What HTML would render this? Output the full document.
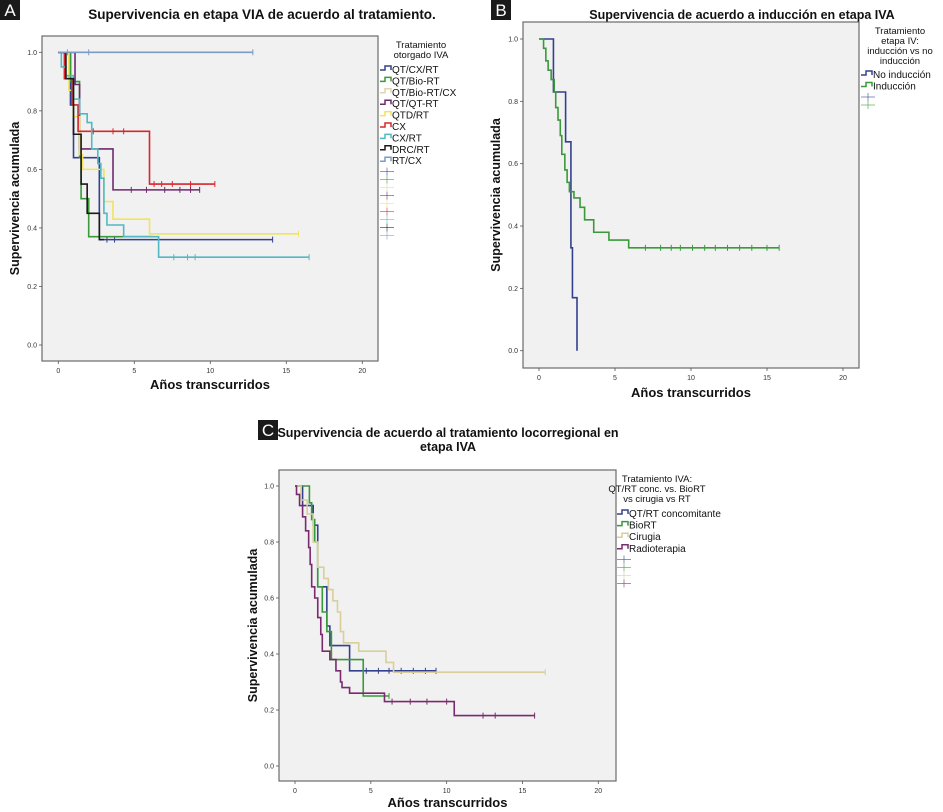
<!DOCTYPE html>
<html><head><meta charset="utf-8">
<style>
html,body{margin:0;padding:0;background:#fff;}
svg{display:block;font-family:"Liberation Sans","DejaVu Sans",sans-serif;}
</style></head>
<body>
<svg id="fig" width="943" height="812" viewBox="0 0 943 812" xmlns="http://www.w3.org/2000/svg"></svg>
<script>
// ---------- Panel A data ----------
const aNames = ["QT/CX/RT","QT/Bio-RT","QT/Bio-RT/CX","QT/QT-RT","QTD/RT","CX","CX/RT","DRC/RT","RT/CX"];
const aColors = ["#33408f","#3a9a3a","#e0d6b0","#6e2a6e","#f2e35a","#d8262e","#52b8c4","#1a1a1a","#7c9cc8"];
const aT1 = [0,0.8,1.0,2.7];            const aS1 = [1,0.82,0.64,0.36];  const aE1 = 14.1;
const aT2 = [0,0.8,1.4,1.5,2.0];        const aS2 = [1,0.9,0.64,0.5,0.37]; const aE2 = 6.2;
const aT3 = [0];                        const aS3 = [1];                   const aE3 = 2.0;
const aT4 = [0,1.1,1.4,3.6];            const aS4 = [1,0.89,0.67,0.53];    const aE4 = 9.3;
const aT5 = [0,0.7,1.0,1.4,1.6,3.0,3.6,6.0]; const aS5 = [1,0.87,0.78,0.65,0.6,0.49,0.43,0.38]; const aE5 = 15.8;
const aT6 = [0,0.4,0.9,1.3,6.0];        const aS6 = [1,0.91,0.82,0.73,0.55]; const aE6 = 10.3;
const aT7 = [0,0.2,0.5,1.0,1.4,1.9,2.2,2.6,2.8,3.0,3.2,4.3,6.6]; const aS7 = [1,0.95,0.92,0.84,0.79,0.76,0.67,0.62,0.57,0.45,0.41,0.37,0.30]; const aE7 = 16.5;
const aT8 = [0,0.5,1.0,1.5,1.9,2.7];    const aS8 = [1,0.91,0.72,0.55,0.45,0.36]; const aE8 = 3.0;
const aT9 = [0];                        const aS9 = [1];                   const aE9 = 12.8;
const aC1 = [3.2,3.7,14.1]; const aC4 = [4.8,5.8,7,8,8.7,9.3]; const aC6 = [2.3,3.6,4.3,6.3,6.8,7.5,8.7,10.3];
const aC7 = [7.6,8.5,9.0,16.5]; const aC5 = [15.8]; const aC9 = [0.6,2.0,12.8];
// ---------- Panel B data ----------
const bNames = ["No inducción","Inducción"];
const bColors = ["#33408f","#3a9a3a"];
const bT1 = [0,0.95,1.75,2.1,2.2,2.5]; const bS1 = [1,0.83,0.67,0.33,0.17,0]; const bE1 = 2.5;
const bT2 = [0,0.3,0.45,0.6,0.8,1.0,1.1,1.25,1.4,1.5,1.7,1.85,2.0,2.3,2.7,3.0,3.6,4.6,5.9];
const bS2 = [1,0.97,0.93,0.9,0.87,0.83,0.78,0.74,0.69,0.63,0.58,0.54,0.51,0.49,0.46,0.42,0.38,0.355,0.33];
const bE2 = 15.8;
const bC2 = [7,8,8.7,9.3,10.1,10.9,11.6,12.4,13.2,14,15,15.8];
// ---------- Panel C data ----------
const cNames = ["QT/RT concomitante","BioRT","Cirugia","Radioterapia"];
const cColors = ["#33408f","#3a9a3a","#d8cf9a","#7a2a6e"];
const cT1 = [0,0.5,1.2,1.5,2.1,2.3,3.6]; const cS1 = [1,0.93,0.86,0.64,0.5,0.43,0.34]; const cE1 = 9.3;
const cT2 = [0,0.95,1.1,1.3,1.5,1.8,2.1,2.4,4.5]; const cS2 = [1,0.94,0.88,0.8,0.64,0.55,0.48,0.38,0.25]; const cE2 = 6.2;
const cT3 = [0,0.4,0.8,1.2,1.5,1.9,2.2,2.5,2.8,3.0,3.2,4.2,6.0,6.5]; const cS3 = [1,0.95,0.9,0.8,0.71,0.67,0.63,0.59,0.55,0.48,0.44,0.41,0.37,0.335]; const cE3 = 16.5;
const cT4 = [0,0.1,0.3,0.5,0.7,0.9,1.0,1.1,1.3,1.5,1.7,1.8,2.3,2.7,3.0,3.1,3.6,5.9,10.5];
const cS4 = [1,0.97,0.93,0.89,0.84,0.78,0.72,0.64,0.6,0.53,0.47,0.41,0.38,0.34,0.3,0.28,0.26,0.23,0.18];
const cE4 = 15.8;
const cC1 = [4.7,5.5,6.2,7,7.8,8.6,9.3]; const cC3 = [16.5]; const cC4 = [6.4,7.6,8.7,10,12.4,13.2,15.8]; const cC2 = [6.2];

const xTicks = [0,5,10,15,20];
const yTicks = [0,0.2,0.4,0.6,0.8,1.0];

const NS = "http://www.w3.org/2000/svg";
const svg = document.getElementById("fig");
function mk(tag, attrs, parent){
  const e = document.createElementNS(NS, tag);
  for (const k in attrs) e.setAttribute(k, attrs[k]);
  (parent||svg).appendChild(e);
  return e;
}
function txt(x,y,s,size,weight,anchor,parent,fill){
  const t = mk("text",{x:x,y:y,"font-size":size,"font-weight":weight||"normal","text-anchor":anchor||"middle",fill:fill||"#111"},parent);
  t.textContent = s;
  return t;
}

function panel(p){
  const g = mk("g",{});
  
  
  const X = v => p.x0 + (v/20)*(p.x20-p.x0);
  const Y = v => p.y0 + v*(p.y1-p.y0);
  const box = mk("rect",{x:p.bx,y:p.by,width:p.bw,height:p.bh,fill:"#f1f1f1",stroke:"#6a6a6a","stroke-width":1.2},g);
  
  
  xTicks.forEach(v=>{
    mk("line",{x1:X(v),x2:X(v),y1:p.by+p.bh,y2:p.by+p.bh+3,stroke:"#555","stroke-width":0.8},g);
    const t = txt(X(v),p.by+p.bh+12,String(v),7,"normal","middle",g,"#333");
    
    
  });
  yTicks.forEach(v=>{
    mk("line",{x1:p.bx-3,x2:p.bx,y1:Y(v),y2:Y(v),stroke:"#555","stroke-width":0.8},g);
    const t = txt(p.bx-5,Y(v)+2.5,v.toFixed(1),7,"normal","end",g,"#333");
    
    
  });
  p.series.forEach((s,i)=>{
    let d = "M"+X(s.t[0])+","+Y(s.s[0]);
    for (let k=1;k<s.t.length;k++){
      d += " H"+X(s.t[k])+" V"+Y(s.s[k]);
    }
    d += " H"+X(s.e);
    const path = mk("path",{d:d,fill:"none",stroke:p.colors[i],"stroke-width":1.6},g);
    
    
    (s.c||[]).forEach(ct=>{
      let sv = s.s[0];
      for (let k=0;k<s.t.length;k++) if (s.t[k]<=ct) sv = s.s[k];
      const cm = mk("line",{x1:X(ct),x2:X(ct),y1:Y(sv)-3,y2:Y(sv)+3,stroke:p.colors[i],"stroke-width":1},g);
      
      
    });
  });
  p.title.forEach((line,k)=>{
    const t = txt(p.tx,p.ty+k*14,line,p.tsize||12.5,"bold","middle",g);
    
    
  });
  const xt = txt((p.bx+p.bw/2),p.xty,"Años transcurridos",13,"bold","middle",g);
  
  
  const yt = txt(0,0,"Supervivencia acumulada",12.5,"bold","middle",g);
  yt.setAttribute("transform","translate("+p.ytx+","+(p.by+p.bh/2)+") rotate(-90)");
  
  
  const lb = mk("rect",{x:p.lx,y:p.ly,width:20,height:20,fill:"#1a1a1a"},g);
  
  
  txt(p.lx+10,p.ly+16,p.letter,17,"normal","middle",g,"#fff");
  p.legTitle.forEach((line,k)=>{
    const t = txt(p.lgx,p.lgy+k*10,line,9.5,"normal","middle",g);
    
    
  });
  p.names.forEach((n,i)=>{
    const yy = p.ley + i*p.lstep;
    const lg = mk("g",{},g);
    
    
    mk("path",{d:"M"+p.lex+","+(yy+1)+" H"+(p.lex+5)+" V"+(yy-3)+" H"+(p.lex+11)+" V"+(yy+1),fill:"none",stroke:p.colors[i],"stroke-width":1.5},lg);
    txt(p.lex+12,yy+4,n,10,"normal","start",lg);
  });
  p.names.forEach((n,i)=>{
    const yy = p.ley + p.names.length*p.lstep + i*p.cstep;
    const cm = mk("g",{},g);
    
    
    mk("line",{x1:p.lex,x2:p.lex+14,y1:yy,y2:yy,stroke:p.colors[i],"stroke-width":0.8,opacity:0.7},cm);
    mk("line",{x1:p.lex+7,x2:p.lex+7,y1:yy-4,y2:yy+4,stroke:p.colors[i],"stroke-width":0.8,opacity:0.7},cm);
  });
}

panel({id:"panel-a",letter:"A",lx:0,ly:0,
  bx:42,by:36,bw:336,bh:325,x0:58.3,x20:362.3,y0:345,y1:52.3,
  tx:262,ty:19,tsize:13.5,title:["Supervivencia en etapa VIA de acuerdo al tratamiento."],xty:389,ytx:19,
  lgx:421,lgy:48,legTitle:["Tratamiento","otorgado IVA"],lex:380,ley:69,lstep:11.4,cstep:8,
  names:aNames,colors:aColors,
  series:[{t:aT1,s:aS1,e:aE1,c:aC1},{t:aT2,s:aS2,e:aE2},{t:aT3,s:aS3,e:aE3},{t:aT4,s:aS4,e:aE4,c:aC4},
          {t:aT5,s:aS5,e:aE5,c:aC5},{t:aT6,s:aS6,e:aE6,c:aC6},{t:aT7,s:aS7,e:aE7,c:aC7},{t:aT8,s:aS8,e:aE8},{t:aT9,s:aS9,e:aE9,c:aC9}]
});
panel({id:"panel-b",letter:"B",lx:491,ly:0,
  bx:523,by:22,bw:336,bh:346,x0:539,x20:843,y0:350.7,y1:39,
  tx:742,ty:19,title:["Supervivencia de acuerdo a inducción en etapa IVA"],xty:397,ytx:500,
  lgx:900,lgy:34,legTitle:["Tratamiento","etapa IV:","inducción vs no","inducción"],lex:861,ley:74,lstep:11.5,cstep:8,
  names:bNames,colors:bColors,
  series:[{t:bT1,s:bS1,e:bE1},{t:bT2,s:bS2,e:bE2,c:bC2}]
});
panel({id:"panel-c",letter:"C",lx:258,ly:420,
  bx:279,by:470,bw:337,bh:311,x0:295,x20:598.3,y0:766,y1:486,
  tx:448,ty:437,title:["Supervivencia de acuerdo al tratamiento locorregional en","etapa IVA"],xty:807,ytx:257,
  lgx:657,lgy:482,legTitle:["Tratamiento IVA:","QT/RT conc. vs. BioRT","vs cirugia vs RT"],lex:617,ley:513,lstep:11.6,cstep:8,
  names:cNames,colors:cColors,
  series:[{t:cT1,s:cS1,e:cE1,c:cC1},{t:cT2,s:cS2,e:cE2,c:cC2},{t:cT3,s:cS3,e:cE3,c:cC3},{t:cT4,s:cS4,e:cE4,c:cC4}]
});
</script>
</body></html>
